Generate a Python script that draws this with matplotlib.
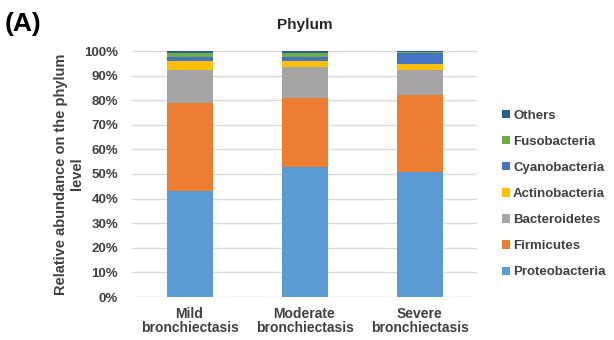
import numpy as np
import matplotlib
matplotlib.use("Agg")
import matplotlib.pyplot as plt
from matplotlib.ticker import PercentFormatter

plt.rcParams['font.family'] = ['Liberation Sans', 'DejaVu Sans']
plt.rcParams['font.weight'] = 'bold'
plt.rcParams['axes.titleweight'] = 'bold'
plt.rcParams['axes.labelweight'] = 'bold'

groups = ["Mild\nbronchiectasis", "Moderate\nbronchiectasis", "Severe\nbronchiectasis"]
phyla = ["Proteobacteria", "Firmicutes", "Bacteroidetes", "Actinobacteria",
         "Cyanobacteria", "Fusobacteria", "Others"]

# relative abundance in percent, one list per phylum (mild, moderate, severe)
proteobacteria = [43.1, 52.8, 51.0]
firmicutes = [35.6, 28.1, 31.0]
bacteroidetes = [13.4, 12.6, 10.2]
actinobacteria = [3.9, 2.6, 2.6]
cyanobacteria = [1.5, 1.5, 4.2]
fusobacteria = [1.5, 1.4, 0.6]
others = [1.0, 1.0, 0.4]

colors = ["#5B9BD5", "#ED7D31", "#A5A5A5", "#FFC000", "#4472C4", "#70AD47", "#255E91"]
series = [proteobacteria, firmicutes, bacteroidetes, actinobacteria,
          cyanobacteria, fusobacteria, others]

txt = "#404040"
fig = plt.figure(figsize=(6.14, 3.4), dpi=100)
ax = fig.add_axes([132 / 614, 43 / 340, 345 / 614, 246 / 340])

x = np.arange(len(groups))
bottom = np.zeros(len(groups))
for name, vals, c in zip(phyla, series, colors):
    vals = np.array(vals) / 100.0
    ax.bar(x, vals, 0.4, bottom=bottom, color=c, label=name, zorder=3)
    bottom += vals

ax.set_xlim(-0.5, 2.5)
ax.set_ylim(0, 1)
ax.set_yticks(np.arange(0, 1.01, 0.1))
ax.yaxis.set_major_formatter(PercentFormatter(1.0, decimals=0))
ax.set_xticks(x)
ax.set_xticklabels(groups, fontsize=10, color=txt, linespacing=1.0)
ax.tick_params(axis='y', labelsize=9.5, labelcolor=txt, length=0, pad=10)
ax.tick_params(axis='x', length=0, pad=7)
ax.grid(axis='y', color="#D9D9D9", linewidth=1, zorder=0)
for s in ax.spines.values():
    s.set_visible(False)

ax.set_ylabel("Relative abundance on the phylum\nlevel", fontsize=10.5, color=txt,
              labelpad=0, linespacing=1.15)
ax.set_title("Phylum", fontsize=11, color="#262626", pad=16)
fig.text(0.008, 0.91, "(A)", fontsize=19, fontweight='bold', color="black")

handles, labels = ax.get_legend_handles_labels()
fig.legend(handles[::-1], labels[::-1], loc='center left',
           bbox_to_anchor=(490 / 614, (340 - 194) / 340), frameon=False,
           fontsize=9.5, labelcolor=txt, handlelength=0.6, handleheight=0.6,
           handletextpad=0.25, labelspacing=1.07)

fig.savefig("out.png", dpi=100)
